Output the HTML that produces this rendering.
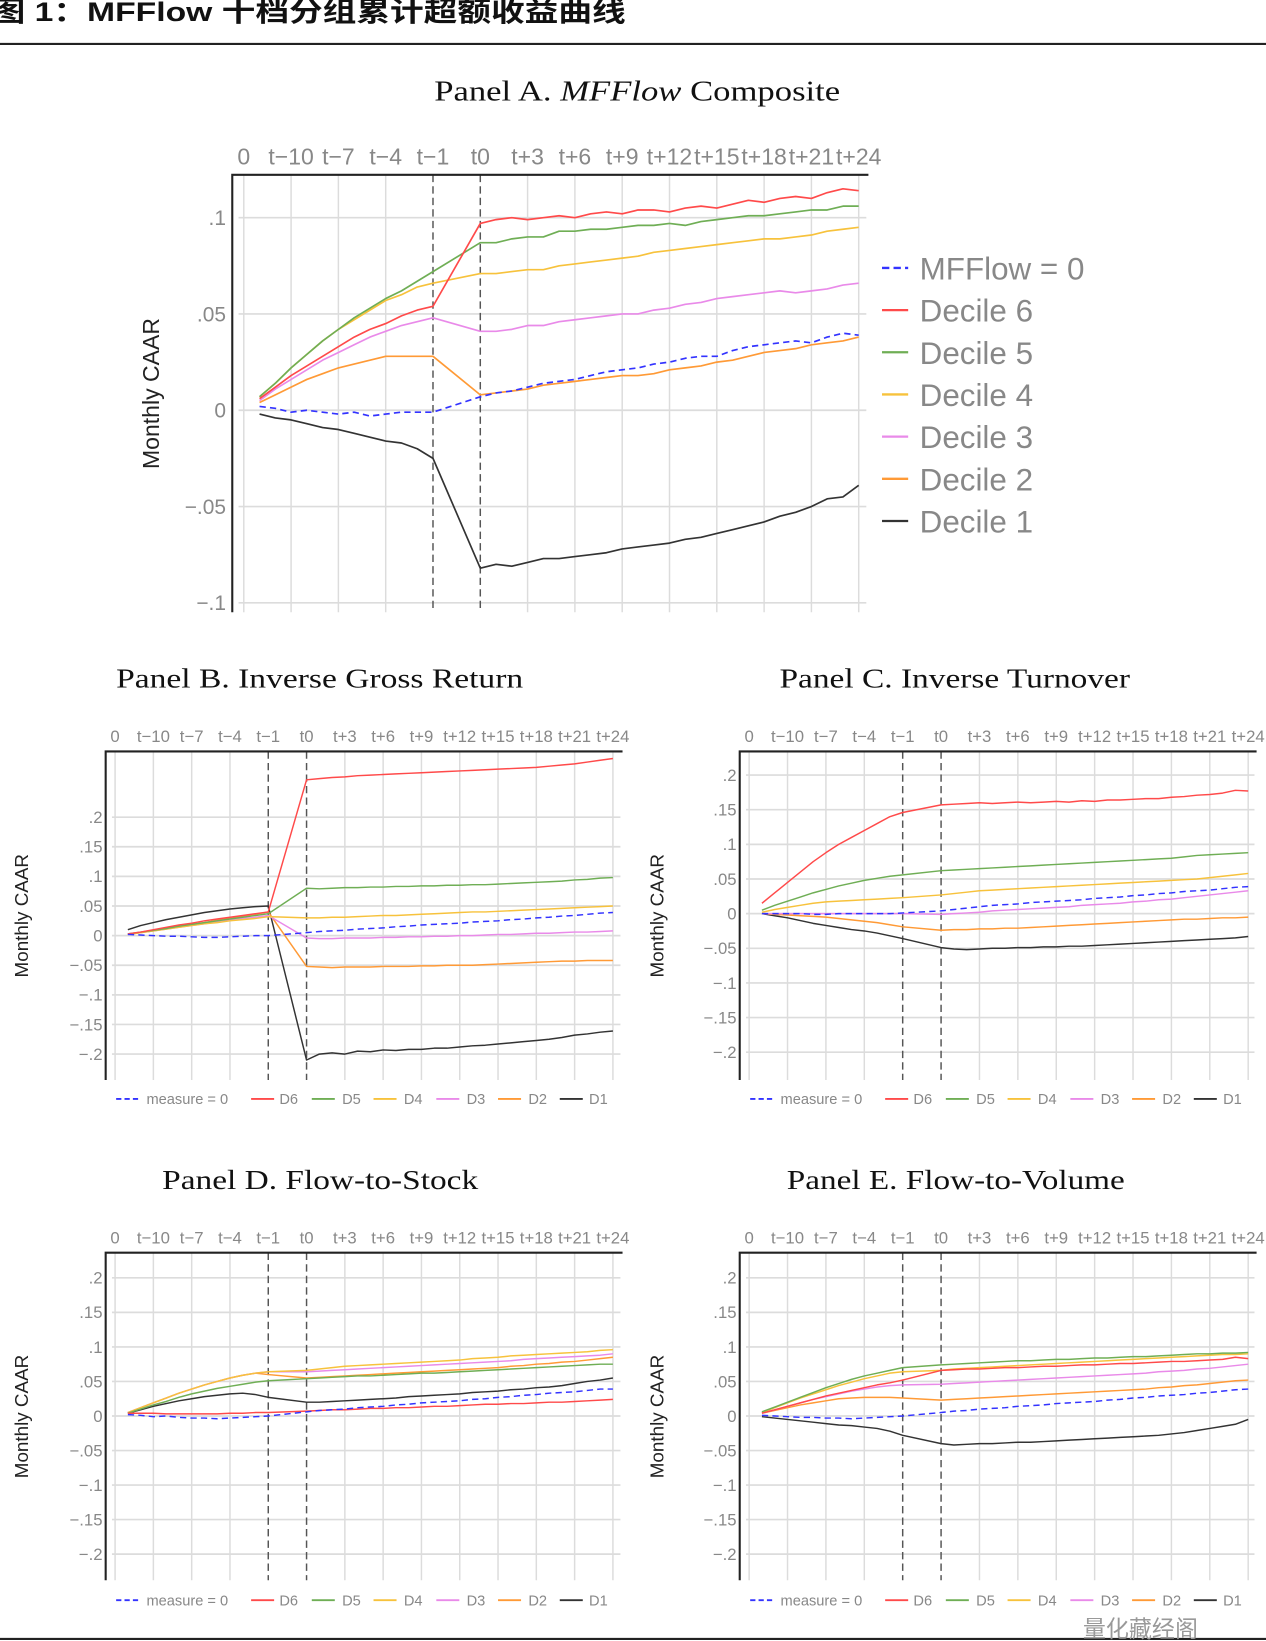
<!DOCTYPE html>
<html><head><meta charset="utf-8"><style>
html,body{margin:0;padding:0;background:#fff;}
svg{display:block;}
</style></head><body>
<svg id="chart" xmlns="http://www.w3.org/2000/svg" width="1266" height="1641" viewBox="0 0 1210 1568" preserveAspectRatio="none">
<rect x="0" y="0" width="1210" height="1568" fill="#fff"/>
<text x="-8" y="20" textLength="606" lengthAdjust="spacingAndGlyphs" font-family="Liberation Sans, Noto Sans CJK SC, sans-serif" font-weight="bold" font-size="26" fill="#111">图 1：MFFlow 十档分组累计超额收益曲线</text>
<line x1="0" y1="42" x2="1210" y2="42" stroke="#222" stroke-width="2"/>
<line x1="0" y1="1566" x2="1210" y2="1566" stroke="#222" stroke-width="2"/>
<text x="1035" y="1564" font-family="Liberation Sans, Noto Sans CJK SC, sans-serif" font-size="22" fill="#999">量化藏经阁</text>
</svg>
<script>
const tickLabels=["0","t−10","t−7","t−4","t−1","t0","t+3","t+6","t+9","t+12","t+15","t+18","t+21","t+24"];
const tickSlots=[-15,-12,-9,-6,-3,0,3,6,9,12,15,18,21,24];
const months=[-12,-11,-10,-9,-8,-7,-6,-5,-4,-3,-2,-1,0,1,2,3,4,5,6,7,8,9,10,11,12,13,14,15,16,17,18,19,20,21,22,23,24];
const seriesNames=["MF0","D6","D5","D4","D3","D2","D1"];
const seriesColors={MF0:"#3333ff",D6:"#ff4a4a",D5:"#6fae55",D4:"#f7c23c",D3:"#e98ae9",D2:"#ff9a36",D1:"#333333"};

const A_MF0=[.002,.001,-.001,.000,-.001,-.002,-.001,-.003,-.002,-.001,-.001,-.001,.007,.009,.010,.012,.014,.015,.016,.018,.020,.021,.022,.024,.025,.027,.028,.028,.031,.033,.034,.035,.036,.035,.038,.040,.039];
const A_D6=[.006,.012,.018,.023,.028,.033,.038,.042,.045,.049,.052,.054,.097,.099,.1,.099,.1,.101,.1,.102,.103,.102,.104,.104,.103,.105,.106,.105,.107,.109,.108,.110,.111,.110,.113,.115,.114];
const A_D5=[.007,.014,.022,.029,.036,.042,.048,.053,.058,.062,.067,.072,.087,.087,.089,.090,.090,.093,.093,.094,.094,.095,.096,.096,.097,.096,.098,.099,.100,.101,.101,.102,.103,.104,.104,.106,.106];
const A_D4=[.007,.014,.022,.029,.036,.042,.047,.052,.057,.060,.064,.066,.071,.071,.072,.073,.073,.075,.076,.077,.078,.079,.080,.082,.083,.084,.085,.086,.087,.088,.089,.089,.090,.091,.093,.094,.095];
const A_D3=[.005,.011,.016,.021,.026,.030,.034,.038,.041,.044,.046,.048,.041,.041,.042,.044,.044,.046,.047,.048,.049,.050,.050,.052,.053,.055,.056,.058,.059,.060,.061,.062,.061,.062,.063,.065,.066];
const A_D2=[.004,.008,.012,.016,.019,.022,.024,.026,.028,.028,.028,.028,.008,.009,.010,.011,.013,.014,.015,.016,.017,.018,.018,.019,.021,.022,.023,.025,.026,.028,.030,.031,.032,.034,.035,.036,.038];
const A_D1=[-.002,-.004,-.005,-.007,-.009,-.010,-.012,-.014,-.016,-.017,-.020,-.025,-.082,-.080,-.081,-.079,-.077,-.077,-.076,-.075,-.074,-.072,-.071,-.070,-.069,-.067,-.066,-.064,-.062,-.060,-.058,-.055,-.053,-.050,-.046,-.045,-.039];

const B_MF0=[.002,.001,0,-.001,-.001,-.002,-.003,-.003,-.002,-.001,0,0,.005,.007,.008,.009,.011,.012,.013,.015,.016,.018,.019,.020,.021,.023,.024,.025,.027,.028,.030,.031,.033,.034,.036,.038,.039];
const B_D6=[.003,.006,.01,.014,.018,.021,.025,.028,.031,.034,.037,.04,.263,.265,.267,.268,.270,.271,.272,.273,.274,.275,.276,.277,.278,.279,.280,.281,.282,.283,.284,.286,.288,.290,.293,.296,.299];
const B_D5=[.003,.006,.009,.012,.016,.019,.022,.025,.028,.031,.034,.037,.08,.079,.08,.081,.081,.082,.082,.083,.083,.084,.084,.085,.085,.086,.086,.087,.088,.089,.090,.091,.092,.094,.095,.097,.098];
const B_D4=[.002,.005,.008,.011,.014,.017,.020,.022,.025,.027,.029,.032,.03,.030,.031,.031,.032,.033,.034,.034,.035,.036,.037,.038,.039,.040,.040,.041,.042,.043,.044,.045,.046,.047,.048,.049,.050];
const B_D3=[.002,.005,.008,.011,.014,.017,.020,.023,.026,.029,.031,.034,-.004,-.005,-.005,-.004,-.004,-.004,-.003,-.003,-.002,-.002,-.001,-.001,0,0,.001,.002,.002,.003,.004,.004,.005,.006,.006,.007,.008];
const B_D2=[.002,.005,.008,.012,.015,.019,.022,.026,.029,.033,.036,.04,-.052,-.053,-.054,-.053,-.053,-.053,-.052,-.052,-.052,-.051,-.051,-.050,-.050,-.050,-.049,-.048,-.047,-.046,-.045,-.044,-.043,-.043,-.042,-.042,-.042];
const B_D1=[.01,.017,.022,.027,.031,.035,.039,.042,.045,.047,.049,.05,-.21,-.2,-.198,-.2,-.195,-.196,-.193,-.194,-.192,-.192,-.19,-.19,-.188,-.186,-.185,-.183,-.181,-.179,-.177,-.175,-.172,-.168,-.166,-.163,-.161];

const C_MF0=[0,0,0,0,-.001,-.001,0,0,0,0,0,.001,.004,.006,.008,.01,.012,.013,.014,.016,.017,.018,.019,.020,.022,.023,.024,.026,.027,.029,.030,.032,.033,.034,.036,.038,.039];
const C_D6=[.015,.03,.045,.06,.075,.088,.1,.11,.12,.13,.14,.146,.157,.158,.159,.16,.159,.16,.161,.16,.161,.162,.161,.163,.162,.164,.164,.165,.166,.166,.168,.169,.171,.172,.174,.178,.177];
const C_D5=[.005,.012,.018,.024,.03,.035,.04,.044,.048,.051,.054,.056,.062,.063,.064,.065,.066,.067,.068,.069,.070,.071,.072,.073,.074,.075,.076,.077,.078,.079,.080,.082,.084,.085,.086,.087,.088];
const C_D4=[.002,.006,.009,.012,.015,.017,.018,.019,.02,.021,.022,.023,.027,.029,.031,.033,.034,.035,.036,.037,.038,.039,.040,.041,.042,.043,.044,.045,.046,.047,.048,.049,.050,.052,.054,.056,.058];
const C_D3=[0,0,0,0,0,0,0,0,0,0,0,0,-.001,0,.001,.002,.004,.005,.006,.007,.008,.009,.010,.012,.013,.014,.015,.017,.018,.020,.021,.023,.025,.027,.029,.031,.033];
const C_D2=[0,-.001,-.002,-.003,-.004,-.005,-.007,-.009,-.011,-.013,-.016,-.019,-.024,-.023,-.023,-.022,-.022,-.021,-.021,-.020,-.019,-.018,-.017,-.016,-.015,-.014,-.013,-.012,-.011,-.010,-.009,-.008,-.008,-.007,-.006,-.006,-.005];
const C_D1=[0,-.003,-.006,-.01,-.014,-.017,-.02,-.023,-.025,-.028,-.032,-.036,-.049,-.051,-.052,-.051,-.050,-.050,-.049,-.049,-.048,-.048,-.047,-.047,-.046,-.045,-.044,-.043,-.042,-.041,-.040,-.039,-.038,-.037,-.036,-.035,-.033];

const D_MF0=[.002,.001,-.001,0,-.002,-.003,-.003,-.004,-.003,-.002,-.001,0,.006,.008,.009,.010,.012,.013,.014,.016,.017,.019,.020,.021,.022,.024,.025,.027,.028,.030,.031,.033,.034,.035,.037,.039,.039];
const D_D6=[.004,.004,.004,.003,.003,.003,.003,.003,.004,.004,.005,.005,.007,.008,.009,.009,.010,.011,.011,.012,.012,.013,.014,.014,.015,.016,.017,.017,.018,.018,.019,.020,.020,.021,.022,.023,.024];
const D_D5=[.004,.01,.016,.021,.027,.032,.036,.040,.043,.046,.049,.051,.054,.055,.056,.057,.058,.058,.059,.060,.061,.062,.062,.063,.064,.065,.066,.067,.068,.069,.070,.071,.072,.073,.074,.075,.075];
const D_D4=[.005,.012,.019,.026,.033,.039,.045,.050,.055,.059,.062,.064,.066,.068,.070,.072,.073,.074,.075,.076,.077,.078,.079,.080,.081,.083,.084,.085,.087,.088,.089,.090,.091,.092,.093,.095,.096];
const D_D3=[.005,.012,.019,.026,.033,.039,.045,.050,.055,.059,.062,.064,.064,.065,.066,.067,.068,.069,.070,.071,.072,.073,.074,.075,.076,.077,.078,.079,.080,.082,.083,.084,.085,.086,.087,.088,.090];
const D_D2=[.005,.012,.019,.026,.033,.039,.045,.050,.055,.059,.062,.06,.055,.056,.057,.058,.059,.060,.061,.062,.063,.064,.065,.066,.067,.068,.069,.070,.072,.073,.075,.076,.078,.079,.081,.083,.085];
const D_D1=[.004,.009,.014,.018,.022,.025,.028,.030,.032,.033,.031,.027,.020,.020,.021,.022,.023,.024,.025,.026,.028,.029,.030,.031,.032,.034,.035,.036,.038,.039,.041,.042,.044,.047,.050,.052,.055];

const E_MF0=[.001,0,-.001,-.002,-.002,-.003,-.003,-.004,-.003,-.002,-.001,0,.005,.007,.008,.010,.011,.012,.014,.015,.016,.018,.019,.020,.021,.023,.024,.026,.027,.029,.030,.031,.033,.034,.036,.038,.039];
const E_D6=[.004,.009,.014,.019,.024,.029,.033,.037,.041,.045,.048,.052,.066,.067,.068,.068,.069,.070,.070,.071,.072,.072,.073,.074,.074,.075,.076,.076,.077,.078,.079,.079,.080,.081,.082,.085,.083];
const E_D5=[.006,.013,.020,.027,.034,.041,.047,.053,.058,.062,.066,.070,.074,.075,.076,.077,.078,.079,.080,.080,.081,.082,.082,.083,.084,.084,.085,.086,.086,.087,.088,.089,.090,.090,.091,.091,.092];
const E_D4=[.005,.012,.019,.026,.032,.038,.044,.049,.054,.058,.062,.064,.066,.068,.069,.070,.071,.072,.073,.074,.075,.076,.077,.078,.079,.080,.081,.082,.083,.084,.085,.086,.087,.088,.089,.089,.090];
const E_D3=[.004,.009,.014,.019,.024,.028,.032,.036,.039,.042,.044,.045,.046,.047,.048,.049,.050,.051,.052,.053,.054,.055,.056,.057,.058,.059,.060,.061,.062,.064,.065,.066,.068,.069,.071,.073,.075];
const E_D2=[.004,.008,.012,.016,.019,.022,.025,.026,.027,.027,.027,.026,.023,.024,.025,.026,.027,.028,.029,.030,.031,.032,.033,.034,.035,.036,.037,.038,.039,.041,.042,.044,.045,.047,.049,.051,.052];
const E_D1=[-.001,-.003,-.005,-.007,-.009,-.011,-.013,-.014,-.016,-.018,-.022,-.028,-.040,-.042,-.041,-.040,-.040,-.039,-.038,-.038,-.037,-.036,-.035,-.034,-.033,-.032,-.031,-.030,-.029,-.028,-.026,-.024,-.021,-.018,-.015,-.012,-.005];

const yTicksA=[.1,.05,0,-.05,-.1];
const yTickLabelsA=[".1",".05","0","−.05","−.1"];
const yTicksSmall=[.2,.15,.1,.05,0,-.05,-.1,-.15,-.2];
const yTickLabelsSmall=[".2",".15",".1",".05","0","−.05","−.1","−.15","−.2"];
const legendSmallLabels=["measure = 0","D6","D5","D4","D3","D2","D1"];
const legendBigLabels=["MFFlow = 0","Decile 6","Decile 5","Decile 4","Decile 3","Decile 2","Decile 1"];

const NS="http://www.w3.org/2000/svg";
const svg=document.getElementById('chart');
function mk(tag,attrs,parent){const e=document.createElementNS(NS,tag);for(const k in attrs)e.setAttribute(k,attrs[k]);(parent||svg).appendChild(e);return e;}
// event-time axis: gap of 3 slots between t-1 and t0
function slotOf(m){return m<0?m-2:m;}

const panels=[
 {id:"a",x0:233,dx:15.07,L:222,R:830,T:167,B:585,y0:392,ky:1840,yt:yTicksA,ytl:yTickLabelsA,tickY:157,tickFs:22,ylabX:152,ylabFs:22,yTickX:216,yTickFs:20,data:{MF0:A_MF0,D6:A_D6,D5:A_D5,D4:A_D4,D3:A_D3,D2:A_D2,D1:A_D1},sw:1.6},
 {id:"b",x0:110,dx:12.2,L:101,R:595,T:718,B:1032,y0:894,ky:566,yt:yTicksSmall,ytl:yTickLabelsSmall,tickY:709,tickFs:16,ylabX:27,ylabFs:18,yTickX:98,yTickFs:16,data:{MF0:B_MF0,D6:B_D6,D5:B_D5,D4:B_D4,D3:B_D3,D2:B_D2,D1:B_D1},legY:1050,legDX:0,sw:1.4},
 {id:"c",x0:716,dx:12.23,L:707,R:1201,T:718,B:1032,y0:873,ky:662,yt:yTicksSmall,ytl:yTickLabelsSmall,tickY:709,tickFs:16,ylabX:634,ylabFs:18,yTickX:704,yTickFs:16,data:{MF0:C_MF0,D6:C_D6,D5:C_D5,D4:C_D4,D3:C_D3,D2:C_D2,D1:C_D1},legY:1050,legDX:606,sw:1.4},
 {id:"d",x0:110,dx:12.2,L:101,R:595,T:1197,B:1510,y0:1353,ky:660,yt:yTicksSmall,ytl:yTickLabelsSmall,tickY:1188,tickFs:16,ylabX:27,ylabFs:18,yTickX:98,yTickFs:16,data:{MF0:D_MF0,D6:D_D6,D5:D_D5,D4:D_D4,D3:D_D3,D2:D_D2,D1:D_D1},legY:1529,legDX:0,sw:1.4},
 {id:"e",x0:716,dx:12.23,L:707,R:1201,T:1197,B:1510,y0:1353,ky:660,yt:yTicksSmall,ytl:yTickLabelsSmall,tickY:1188,tickFs:16,ylabX:634,ylabFs:18,yTickX:704,yTickFs:16,data:{MF0:E_MF0,D6:E_D6,D5:E_D5,D4:E_D4,D3:E_D3,D2:E_D2,D1:E_D1},legY:1529,legDX:606,sw:1.4}
];
const titles=[
 {t:'Panel A. <tspan font-style="italic">MFFlow</tspan> Composite',x1:415,x2:803,y:96,fs:27},
 {t:'Panel B. Inverse Gross Return',x1:111,x2:500,y:657,fs:26},
 {t:'Panel C. Inverse Turnover',x1:745,x2:1080,y:657,fs:26},
 {t:'Panel D. Flow-to-Stock',x1:155,x2:457,y:1136,fs:26},
 {t:'Panel E. Flow-to-Volume',x1:752,x2:1075,y:1136,fs:26}
];
titles.forEach((tt,i)=>{
 const e=mk('text',{x:tt.x1,y:tt.y,textLength:tt.x2-tt.x1,lengthAdjust:'spacingAndGlyphs','font-family':'Liberation Serif, serif','font-size':tt.fs,fill:'#111'});
 
 
 e.innerHTML=tt.t;
});

panels.forEach(p=>{
 const g=mk('g',{});
 
 
 const XS=s=>p.x0+(s+15)*p.dx;
 const X=m=>XS(slotOf(m));
 const Y=v=>p.y0-v*p.ky;
 p.yt.forEach((v,i)=>{
  const l=mk('line',{x1:p.L+6,x2:p.R-2,y1:Y(v),y2:Y(v),stroke:'#dcdcdc','stroke-width':1.6},g);
  
  
  const t=mk('text',{x:p.yTickX,y:Y(v)+p.yTickFs*0.35,'text-anchor':'end','font-family':'Liberation Sans Narrow, Liberation Sans, sans-serif','font-size':p.yTickFs,fill:'#888'},g);
  
  
  t.textContent=p.ytl[i];
 });
 tickSlots.forEach((s,i)=>{
  const dashed=(s===-3||s===0);
  const l=mk('line',{x1:XS(s),x2:XS(s),y1:p.T,y2:p.B,stroke:dashed?'#555':'#dcdcdc','stroke-width':1.4,'stroke-dasharray':dashed?'7,4':'none'},g);
  
  
  const t=mk('text',{x:XS(s),y:p.tickY,'text-anchor':'middle','font-family':'Liberation Sans Narrow, Liberation Sans, sans-serif','font-size':p.tickFs,fill:'#888'},g);
  
  
  t.textContent=tickLabels[i];
 });
 const ax=mk('path',{d:`M${p.L},${p.B} L${p.L},${p.T} L${p.R},${p.T}`,fill:'none',stroke:'#222','stroke-width':2},g);
 
 
 const yl=mk('text',{x:p.ylabX,y:(p.T+p.B)/2,transform:`rotate(-90 ${p.ylabX} ${(p.T+p.B)/2})`,'text-anchor':'middle','font-family':'Liberation Sans, sans-serif','font-size':p.ylabFs,fill:'#222'},g);
 
 
 yl.textContent='Monthly CAAR';
 seriesNames.slice().reverse().forEach(s=>{
  const vals=p.data[s];
  const d=vals.map((v,i)=>(i?'L':'M')+X(months[i]).toFixed(2)+','+Y(v).toFixed(2)).join(' ');
  const pa=mk('path',{d:d,fill:'none',stroke:seriesColors[s],'stroke-width':p.sw,'stroke-dasharray':s==='MF0'?'6,4':'none','stroke-linejoin':'round'},g);
  
  
 });
 if(p.id==='a'){
  seriesNames.forEach((s,i)=>{
   const y=256+i*40.3;
   const l=mk('line',{x1:843,x2:868,y1:y,y2:y,stroke:seriesColors[s],'stroke-width':2.2,'stroke-dasharray':s==='MF0'?'7,4':'none'},g);
   
   
   const t=mk('text',{x:879,y:y+11,'font-family':'Liberation Sans, sans-serif','font-size':30,fill:'#888'},g);
   
   
   t.textContent=legendBigLabels[i];
  });
 } else {
  const lx=[111,240,298,357,417,476,535];
  const tx=[140,267,327,386,446,505,563];
  seriesNames.forEach((s,i)=>{
   const l=mk('line',{x1:lx[i]+p.legDX,x2:lx[i]+22+p.legDX,y1:p.legY,y2:p.legY,stroke:seriesColors[s],'stroke-width':1.8,'stroke-dasharray':s==='MF0'?'5,3':'none'},g);
   
   
   const t=mk('text',{x:tx[i]+p.legDX,y:p.legY+5,'font-family':'Liberation Sans Narrow, Liberation Sans, sans-serif','font-size':14,fill:'#888'},g);
   
   
   t.textContent=legendSmallLabels[i];
  });
 }
});
</script>
</body></html>
